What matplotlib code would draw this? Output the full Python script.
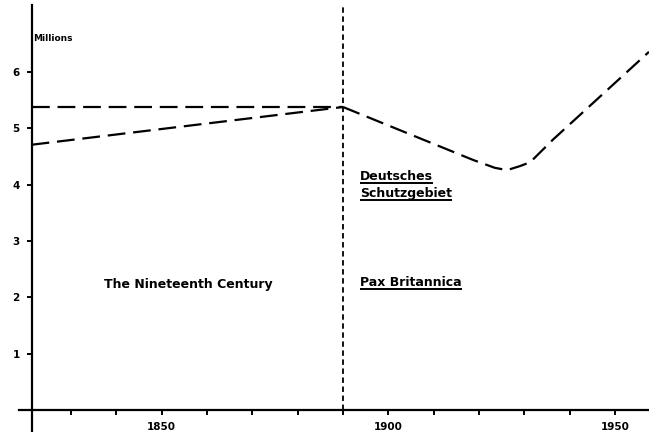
import matplotlib
matplotlib.use('Agg')
import matplotlib.pyplot as plt

# Werte (Jahr, Millionen)
upper_years = [1821.3, 1890]
upper_values = [5.38, 5.38]

lower_years = [1821.3, 1890]
lower_values = [4.71, 5.38]

later_years = [1890, 1918.7, 1923.5, 1926.2, 1929.0, 1931.3, 1936.3, 1957.5]
later_values = [5.38, 4.44, 4.30, 4.26, 4.33, 4.40, 4.80, 6.36]

divider_year = 1890
y_ticks = [1, 2, 3, 4, 5, 6]
x_ticks = list(range(1830, 1960, 10))
x_labels = {1850: '1850', 1900: '1900', 1950: '1950'}

plt.rcParams['font.family'] = ['DejaVu Sans']
plt.rcParams['font.weight'] = 'bold'

fig = plt.figure(figsize=(6.49, 4.32), dpi=100)
ax = fig.add_axes([0, 0, 1, 1])
ax.set_xlim(1814.33, 1957.5)
ax.set_ylim(-0.39, 7.28)

# Achsen wie im Original: Kreuz bei 1821 / 0
ax.spines['top'].set_visible(False)
ax.spines['right'].set_visible(False)
ax.spines['left'].set_position(('data', 1821.3))
ax.spines['bottom'].set_position(('data', 0))
ax.spines['left'].set_bounds(-0.39, 7.2)
ax.spines['bottom'].set_bounds(1818.5, 1957.5)
for s in ['left', 'bottom']:
    ax.spines[s].set_linewidth(1.6)

ax.set_yticks(y_ticks)
ax.set_yticklabels([str(v) for v in y_ticks], fontsize=7.5, fontweight='bold')
ax.set_xticks(x_ticks)
ax.set_xticklabels([x_labels.get(t, '') for t in x_ticks], fontsize=7.5, fontweight='bold')
ax.tick_params(axis='both', direction='out', length=3.5, width=1.4, pad=5)
ax.tick_params(axis='x', pad=5)

# Kurven
ax.plot(upper_years, upper_values, color='black', lw=1.6, dashes=(8, 3.5))
ax.plot(lower_years, lower_values, color='black', lw=1.6, dashes=(8, 3.5))
ax.plot(later_years, later_values, color='black', lw=1.6, dashes=(8, 3.5))
ax.axvline(divider_year, ymin=0.05, ymax=0.985, color='black', lw=1.3, dashes=(3, 2))

ax.text(1821.6, 6.6, 'Millions', fontsize=6.5, fontweight='bold', va='center', ha='left')

fs = 9
ax.text(1837.3, 2.17, 'The Nineteenth Century', fontsize=fs, fontweight='bold',
        va='baseline', ha='left')
underlined = [
    ax.text(1893.8, 4.08, 'Deutsches', fontsize=fs, fontweight='bold', va='baseline', ha='left'),
    ax.text(1893.8, 3.78, 'Schutzgebiet', fontsize=fs, fontweight='bold', va='baseline', ha='left'),
    ax.text(1893.8, 2.2, 'Pax Britannica', fontsize=fs, fontweight='bold', va='baseline', ha='left'),
]

# Unterstreichungen knapp unter der Grundlinie
fig.canvas.draw()
renderer = fig.canvas.get_renderer()
inv = ax.transData.inverted()
for t in underlined:
    bb = t.get_window_extent(renderer)
    base = ax.transData.transform(t.get_position())[1]
    y = base - 2.5
    (xa, ya) = inv.transform((bb.x0, y))
    (xb, yb) = inv.transform((bb.x1, y))
    ax.plot([xa, xb], [ya, yb], color='black', lw=1.4, solid_capstyle='butt')

fig.savefig('out.png', dpi=100)
